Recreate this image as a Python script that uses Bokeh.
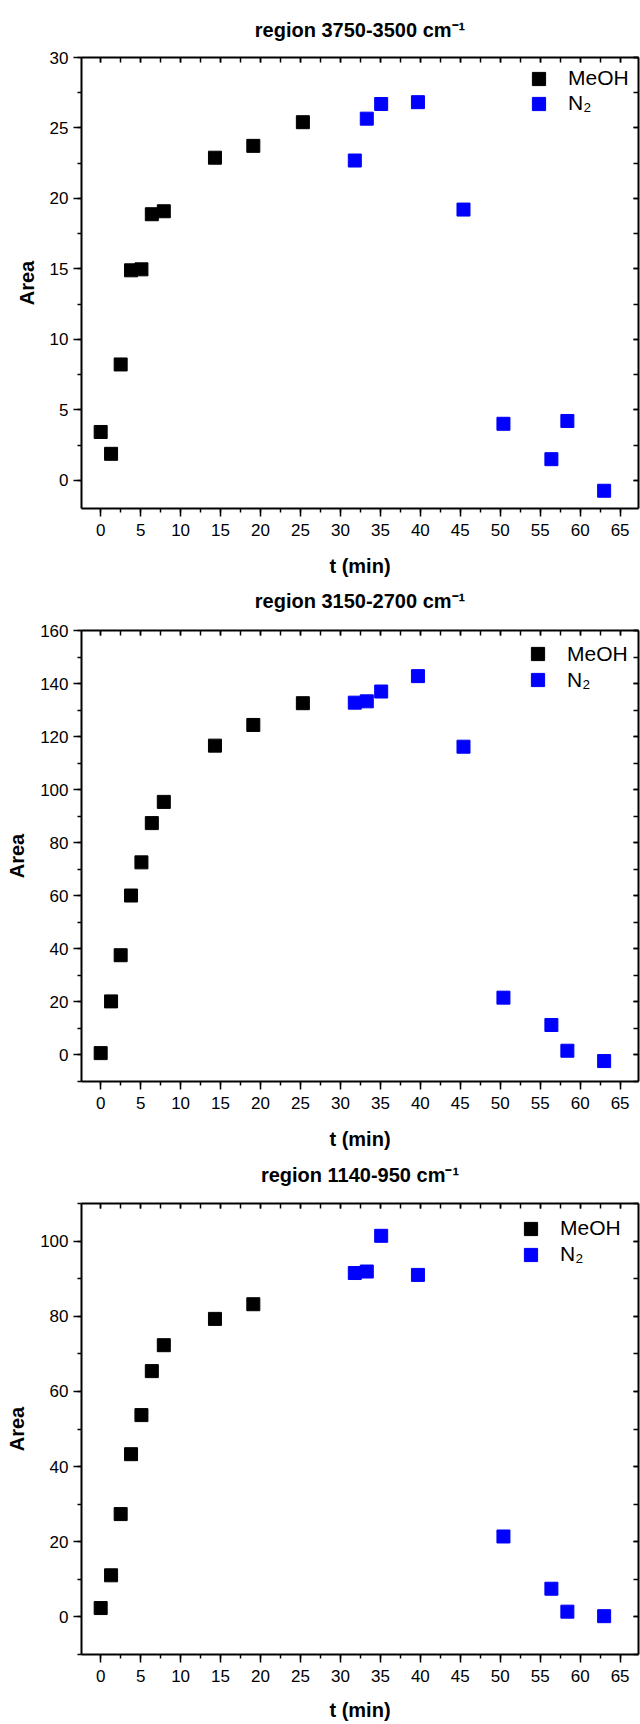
from bokeh.plotting import figure
from bokeh.models import LinearAxis, SingleIntervalTicker, Range1d, Legend, LegendItem
from bokeh.layouts import column
from bokeh.embed import file_html
from bokeh.resources import INLINE

# ---- data (time in min, integrated band area) ----
t_meoh = [0.0, 1.3, 2.5, 3.8, 5.1, 6.4, 7.9, 14.3, 19.1, 25.3]
t_n2 = [31.8, 33.3, 35.1, 39.7, 45.4, 50.4, 56.4, 58.4, 63.0]

meoh_3750 = [3.43, 1.88, 8.22, 14.90, 14.97, 18.88, 19.09, 22.89, 23.73, 25.41]
n2_3750 = [22.69, 25.66, 26.70, 26.83, 19.21, 4.01, 1.50, 4.21, -0.74]

meoh_3150 = [0.7, 20.2, 37.6, 60.1, 72.6, 87.4, 95.4, 116.6, 124.4, 132.6]
n2_3150 = [132.8, 133.3, 137.0, 142.8, 116.2, 21.6, 11.3, 1.6, -2.3]

t_meoh_1140 = [0.0, 1.3, 2.5, 3.8, 5.1, 6.4, 7.9, 14.3, 19.1]
meoh_1140 = [2.36, 11.07, 27.36, 43.3, 53.7, 65.4, 72.3, 79.3, 83.2]
t_n2_1140 = [31.8, 33.3, 35.1, 39.7, 50.4, 56.4, 58.4, 63.0]
n2_1140 = [91.5, 91.9, 101.4, 91.0, 21.4, 7.5, 1.4, 0.2]

titles = ["region 3750-3500 cm\u207b\u00b9", "region 3150-2700 cm\u207b\u00b9", "region 1140-950 cm\u207b\u00b9"]
series_names = ["MeOH", "N\u2082"]
x_range = (-2.4, 67.3)
y_ranges = [(-2, 30), (-10, 160), (-10, 110)]
y_intervals = [5, 20, 20]

FONT = "Liberation Sans"
FH = 451


def make(title, tm, ym, tn, yn, yr, yint, top_b, bottom_b, xlab_standoff,
         title_standoff, leg_x, leg_top, leg_pitch):
    height = top_b + FH + bottom_b
    p = figure(width=640, height=height, output_backend="svg", toolbar_location=None,
               x_range=Range1d(*x_range), y_range=Range1d(*yr),
               min_border_left=81, min_border_right=2, min_border_top=top_b,
               min_border_bottom=bottom_b,
               x_axis_label="t (min)", y_axis_label="Area")
    p.grid.visible = False
    p.outline_line_color = None
    p.background_fill_color = "white"
    p.border_fill_color = "white"

    r1 = p.scatter(tm, ym, marker="square", size=13, fill_color="black", line_color="black")
    r2 = p.scatter(tn, yn, marker="square", size=13, fill_color="#0000ff", line_color="#0000ff")

    xa = p.xaxis[0]
    ya = p.yaxis[0]
    xa.ticker = SingleIntervalTicker(interval=5, num_minor_ticks=2)
    ya.ticker = SingleIntervalTicker(interval=yint, num_minor_ticks=2)
    for ax in (xa, ya):
        ax.axis_line_width = 2
        ax.axis_line_color = "black"
        ax.major_tick_line_width = 1.5
        ax.minor_tick_line_width = 1.5
        ax.major_tick_in = 0
        ax.major_tick_out = 8
        ax.minor_tick_in = 0
        ax.minor_tick_out = 4
        ax.major_label_text_font = FONT
        ax.major_label_text_font_size = "17px"
        ax.major_label_text_color = "black"
        ax.axis_label_text_font = FONT
        ax.axis_label_text_font_size = "20px"
        ax.axis_label_text_font_style = "bold"
        ax.axis_label_text_color = "black"
    xa.major_label_standoff = 7
    ya.major_label_standoff = 5
    xa.axis_label_standoff = xlab_standoff
    ya.axis_label_standoff = 9

    # top axis carries the panel title; right axis mirrors ticks
    top = LinearAxis(ticker=SingleIntervalTicker(interval=5, num_minor_ticks=2),
                     axis_label=title)
    right = LinearAxis(ticker=SingleIntervalTicker(interval=yint, num_minor_ticks=2))
    for ax in (top, right):
        ax.axis_line_width = 2
        ax.axis_line_color = "black"
        ax.major_tick_line_width = 1.5
        ax.minor_tick_line_width = 1.5
        ax.major_tick_in = 5
        ax.major_tick_out = 0
        ax.minor_tick_in = 5
        ax.minor_tick_out = 0
        ax.major_label_text_font_size = "0px"
        ax.major_label_text_color = None
        ax.major_label_standoff = 0
    top.axis_label_text_font = FONT
    top.axis_label_text_font_size = "20px"
    top.axis_label_text_font_style = "bold"
    top.axis_label_text_color = "black"
    top.axis_label_standoff = title_standoff
    p.add_layout(top, "above")
    p.add_layout(right, "right")

    # one legend box per entry (glyph box 33x33 -> 13 px square)
    for i, r in enumerate((r1, r2)):
        row_center = leg_top + leg_pitch * i   # px below the frame top
        vy = FH - row_center - 16.5            # bottom of the legend box, from frame bottom
        lg = Legend(items=[LegendItem(label=series_names[i], renderers=[r])],
                    location=(leg_x, vy))
        lg.glyph_width = 33
        lg.glyph_height = 33
        lg.label_standoff = 13
        lg.padding = 0
        lg.margin = 0
        lg.border_line_color = None
        lg.background_fill_alpha = 0
        lg.label_text_font = FONT
        lg.label_text_font_size = "21px"
        lg.label_text_color = "black"
        p.add_layout(lg)
    return p


p1 = make(titles[0], t_meoh, meoh_3750, t_n2, n2_3750, y_ranges[0], y_intervals[0],
          57, 74, 16, 17, 441, 21, 25)
p2 = make(titles[1], t_meoh, meoh_3150, t_n2, n2_3150, y_ranges[1], y_intervals[1],
          48, 74, 16, 19, 440, 23.5, 26)
p3 = make(titles[2], t_meoh_1140, meoh_1140, t_n2_1140, n2_1140, y_ranges[2], y_intervals[2],
          48, 70, 14, 18, 433, 25, 26)

layout = column(p1, p2, p3, spacing=0)
open("out.html", "w").write(file_html(layout, INLINE))
